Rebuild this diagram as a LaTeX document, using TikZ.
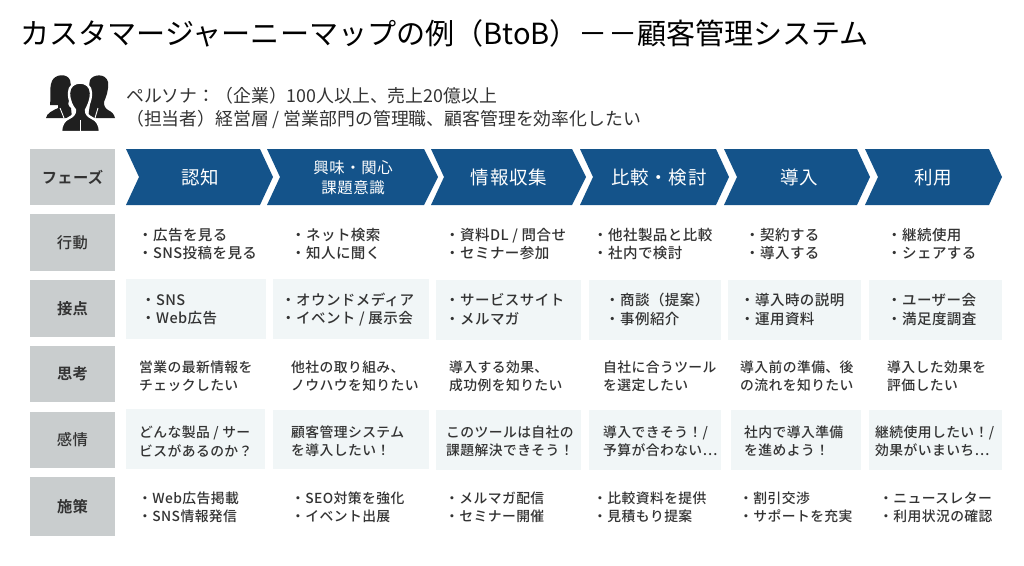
\documentclass[tikz,border=0pt]{standalone}
\usepackage{fontspec}
\setmainfont{Noto Sans CJK JP}
\newfontfamily\jpbody[LetterSpace=3]{Noto Sans CJK JP Medium}
\newfontfamily\jpbold[LetterSpace=2]{Noto Sans CJK JP Bold}
\newfontfamily\jphead[LetterSpace=4]{Noto Sans CJK JP}
\newfontfamily\jpplain{Noto Sans CJK JP}
\definecolor{ink}{HTML}{333333}
\definecolor{barblue}{HTML}{14538A}
\definecolor{headgray}{HTML}{C9CDCE}
\definecolor{lightcell}{HTML}{F1F6F7}
\tikzset{
  rowhead/.style={fill=headgray,draw=none,inner sep=0pt},
  headlabel/.style={text=ink,inner sep=0pt,font=\jpbody\fontsize{15.3}{18}\selectfont},
  headlabelb/.style={text=ink,inner sep=0pt,font=\jpbold\fontsize{15.3}{18}\selectfont},
  cellbg/.style={fill=lightcell,draw=none},
  celltxt/.style={anchor=west,align=left,inner sep=0pt,text=ink,font=\jpbody\fontsize{14.5}{18.5}\selectfont},
  thinktxt/.style={anchor=west,align=left,inner sep=0pt,text=ink,font=\jpbody\fontsize{13.8}{18.2}\selectfont},
  actiontxt/.style={anchor=west,align=left,inner sep=0pt,text=ink,font=\jpbody\fontsize{13.8}{18.2}\selectfont},
  chev/.style={fill=barblue,draw=none},
  chevtxt/.style={text=white,align=center,inner sep=0pt,font=\jphead\fontsize{18.5}{22}\selectfont},
  chevsmall/.style={text=white,align=center,inner sep=0pt,font=\jphead\fontsize{15.4}{19.5}\selectfont},
  persona/.style={anchor=west,align=left,inner sep=0pt,text=ink,font=\jpplain\fontsize{17.85}{23}\selectfont},
  titletxt/.style={anchor=west,inner sep=0pt,text=black,font=\jpplain\fontsize{29.1}{34}\selectfont},
  iconside/.style={fill=black!88,draw=none},
  iconfront/.style={fill=black!88,draw=white,line width=2.4pt,line join=round}
}
\newcommand{\headcell}[5]{\node[rowhead,minimum width=#3-#2,minimum height=#5-#4] (#1) at ({(#2+#3)/2},{(#4+#5)/2}) {};}
\begin{document}
\begin{tikzpicture}[x=1pt,y=-1pt]
\useasboundingbox (0,0) rectangle (1024,565);
\fill[white] (0,0) rectangle (1024,565);
\node[titletxt] (title) at (20,33) {カスタマージャーニーマップの例（BtoB）－－顧客管理システム};
% icon
\path[iconside] (50,105) .. controls (51,97) and (49,88) .. (52,81) .. controls (55,74) and (67,73) .. (70,80) .. controls (72,86) and (70,94) .. (69,100) .. controls (68,104) and (68,106) .. (71,108) -- (72,118) -- (46,118) .. controls (47,113) and (52,111) .. (58,108) -- (58,105) -- cycle;
\path[iconside] (90,80) .. controls (93,74) and (106,73) .. (108,82) .. controls (109,90) and (106,97) .. (104,102) .. controls (104,106) and (105,108) .. (108,110) .. controls (112,112) and (114,114) .. (115,118) -- (88,118) -- (90,104) .. controls (90,96) and (88,88) .. (90,80) -- cycle;
\path[iconfront] (69,93) .. controls (69,79) and (91,79) .. (91,93) .. controls (91,101) and (88,106) .. (86,110) .. controls (86,114) and (88,116) .. (92,118) .. controls (97,120) and (100,125) .. (100,132) -- (61,132) .. controls (61,125) and (64,120) .. (69,118) .. controls (73,116) and (75,114) .. (75,110) .. controls (72,106) and (69,101) .. (69,93) -- cycle;
\draw[white,line width=0.9pt] (80,120) -- (80,131);
\draw[white,line width=0.9pt] (60,108) -- (64,118);
\draw[white,line width=0.9pt] (98,108) -- (95,118);
\node[persona] (p) at (126,108) {ペルソナ：（企業）100人以上、売上20億以上\\（担当者）経営層 / 営業部門の管理職、顧客管理を効率化したい};
% row heads
\headcell{h0}{30}{115}{149}{205}
\headcell{h1}{30}{115}{214}{271}
\headcell{h2}{30}{115}{280}{337}
\headcell{h3}{30}{115}{346}{402}
\headcell{h4}{30}{115}{412}{468}
\headcell{h5}{30}{115}{477}{536}
\node[headlabelb] (lh0) at (h0) {フェーズ};
\node[headlabel] (lh1) at (h1) {行動};
\node[headlabelb] (lh2) at (h2) {接点};
\node[headlabelb] (lh3) at (h3) {思考};
\node[headlabel] (lh4) at (h4) {感情};
\node[headlabelb] (lh5) at (h5) {施策};
% chevrons
\fill[chev] (126,149) -- (260,149) -- (273,177) -- (260,205) -- (126,205) -- (139,177) -- cycle;
\fill[chev] (267,149) -- (424,149) -- (438,177) -- (424,205) -- (267,205) -- (280,177) -- cycle;
\fill[chev] (431,149) -- (572,149) -- (586,177) -- (572,205) -- (431,205) -- (444,177) -- cycle;
\fill[chev] (580,149) -- (716,149) -- (729,177) -- (716,205) -- (580,205) -- (593,177) -- cycle;
\fill[chev] (724,149) -- (857,149) -- (870,177) -- (857,205) -- (724,205) -- (737,177) -- cycle;
\fill[chev] (865,149) -- (989,149) -- (1002,177) -- (989,205) -- (865,205) -- (878,177) -- cycle;
\node[chevtxt] (c1) at (200,177.5) {認知};
\node[chevsmall] (c2) at (353,177.5) {興味・関心\\課題意識};
\node[chevtxt] (c3) at (509,177.5) {情報収集};
\node[chevtxt] (c4) at (659,177.5) {比較・検討};
\node[chevtxt] (c5) at (799,177.5) {導入};
\node[chevtxt] (c6) at (933,177.5) {利用};
% light cells
\fill[cellbg] (126,279) rectangle (266,339);
\fill[cellbg] (273,279) rectangle (429,339);
\fill[cellbg] (436,280) rectangle (581,340);
\fill[cellbg] (589,280) rectangle (721,340);
\fill[cellbg] (728,280) rectangle (861,340);
\fill[cellbg] (869,280) rectangle (1002,340);
\fill[cellbg] (126,409) rectangle (265,469);
\fill[cellbg] (273,410) rectangle (429,469);
\fill[cellbg] (436,410) rectangle (581,470);
\fill[cellbg] (589,410) rectangle (721,470);
\fill[cellbg] (731,410) rectangle (861,470);
\fill[cellbg] (869,410) rectangle (1002,470);
% row 1
\node[celltxt] (a1) at (138,244) {・広告を見る\\・SNS投稿を見る};
\node[celltxt] (a2) at (291,244) {・ネット検索\\・知人に聞く};
\node[celltxt] (a3) at (445,244) {・資料DL / 問合せ\\・セミナー参加};
\node[celltxt] (a4) at (593,244) {・他社製品と比較\\・社内で検討};
\node[celltxt] (a5) at (745,244) {・契約する\\・導入する};
\node[celltxt] (a6) at (887,244) {・継続使用\\・シェアする};
% row 2
\node[celltxt] (b1) at (141,309.5) {・SNS\\・Web広告};
\node[celltxt] (b2) at (281,309.5) {・オウンドメディア\\・イベント / 展示会};
\node[celltxt] (b3) at (445,309.5) {・サービスサイト\\・メルマガ};
\node[celltxt] (b4) at (605,309.5) {・商談（提案）\\・事例紹介};
\node[celltxt] (b5) at (740,309.5) {・導入時の説明\\・運用資料};
\node[celltxt] (b6) at (887,309.5) {・ユーザー会\\・満足度調査};
% row 3
\node[thinktxt] (d1) at (139,376.5) {営業の最新情報を\\チェックしたい};
\node[thinktxt] (d2) at (291,376.5) {他社の取り組み、\\ノウハウを知りたい};
\node[thinktxt] (d3) at (449,376.5) {導入する効果、\\成功例を知りたい};
\node[thinktxt] (d4) at (603,376.5) {自社に合うツール\\を選定したい};
\node[thinktxt] (d5) at (740,376.5) {導入前の準備、後\\の流れを知りたい};
\node[thinktxt] (d6) at (887,376.5) {導入した効果を\\評価したい};
% row 4
\node[thinktxt] (e1) at (139,441.5) {どんな製品 / サー\\ビスがあるのか？};
\node[thinktxt] (e2) at (291,441.5) {顧客管理システム\\を導入したい！};
\node[thinktxt] (e3) at (446,441.5) {このツールは自社の\\課題解決できそう！};
\node[thinktxt] (e4) at (603,441.5) {導入できそう！/\\予算が合わない⋯};
\node[thinktxt] (e5) at (744,441.5) {社内で導入準備\\を進めよう！};
\node[thinktxt] (e6) at (875,441.5) {継続使用したい！/\\効果がいまいち⋯};
% row 5
\node[actiontxt] (f1) at (138,507.5) {・Web広告掲載\\・SNS情報発信};
\node[actiontxt] (f2) at (291,507.5) {・SEO対策を強化\\・イベント出展};
\node[actiontxt] (f3) at (445,507.5) {・メルマガ配信\\・セミナー開催};
\node[actiontxt] (f4) at (593,507.5) {・比較資料を提供\\・見積もり提案};
\node[actiontxt] (f5) at (739,507.5) {・割引交渉\\・サポートを充実};
\node[actiontxt] (f6) at (879,507.5) {・ニュースレター\\・利用状況の確認};
\end{tikzpicture}
\end{document}
